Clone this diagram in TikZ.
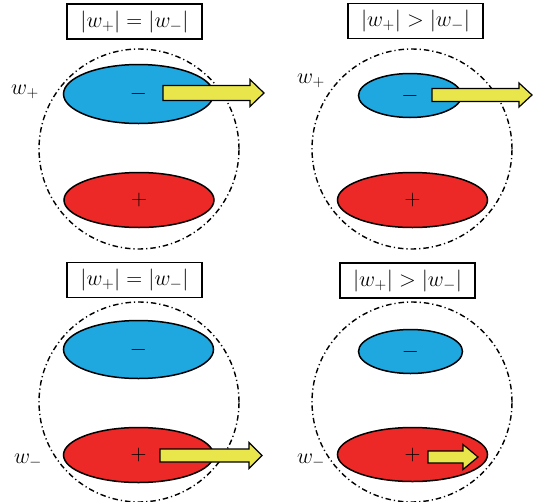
\RequirePackage{fix-cm}
\documentclass[tikz,border=0pt]{standalone}
\usepackage{amsmath}
\usepackage{tikz}
\usetikzlibrary{shapes.geometric}

\definecolor{chargeBlue}{RGB}{31,167,223}
\definecolor{chargeRed}{RGB}{237,41,39}
\definecolor{pushYellow}{RGB}{232,230,74}

\tikzset{
	bigText/.style={font=\fontsize{22}{26}\selectfont},
	titleBox/.style={rectangle, draw=black, line width=1.5pt, minimum width=135pt, minimum height=35pt, inner sep=0pt, bigText},
	minusBlob/.style={ellipse, fill=chargeBlue, draw=black, line width=1.5pt, inner sep=0pt, bigText},
	plusBlob/.style={ellipse, fill=chargeRed, draw=black, line width=1.5pt, inner sep=0pt, bigText},
	dipoleRing/.style={circle, draw=black, line width=1.4pt, dash pattern=on 5.5pt off 3pt on 1.2pt off 3pt, minimum size=200pt, inner sep=0pt},
	pushArrow/.style={fill=pushYellow, draw=black, line width=1.2pt, line join=miter},
	weightLabel/.style={inner sep=0pt, bigText}
}

% tail x, tip x, y, shaft half width, head half width, head length
\newcommand{\drawPush}[6]{%
	\draw[pushArrow] (#1,#3-#4) -- (#2-#6,#3-#4) -- (#2-#6,#3-#5) -- (#2,#3) -- (#2-#6,#3+#5) -- (#2-#6,#3+#4) -- (#1,#3+#4) -- cycle;}

\begin{document}
\begin{tikzpicture}[x=1pt, y=-1pt]
	\useasboundingbox (0,0) rectangle (533,501);

	% titles
	\node[titleBox](eqTopTitle) at (134.5,21.5){$|w_{+}| = |w_{-}|$};
	\node[titleBox](gtTopTitle) at (415.5,21){$|w_{+}| > |w_{-}|$};
	\node[titleBox](eqBotTitle) at (134.5,280){$|w_{+}| = |w_{-}|$};
	\node[titleBox](gtBotTitle) at (407.5,280.5){$|w_{+}| > |w_{-}|$};

	% dipole rings
	\node[dipoleRing](eqTopRing) at (139,149){};
	\node[dipoleRing](gtTopRing) at (412,149){};
	\node[dipoleRing](eqBotRing) at (139,402){};
	\node[dipoleRing](gtBotRing) at (412,402){};

	% charges
	\node[minusBlob, minimum width=150pt, minimum height=59pt](eqTopMinus) at (138.5,94){$-$};
	\node[plusBlob, minimum width=150pt, minimum height=55pt](eqTopPlus) at (139,200){$+$};
	\node[minusBlob, minimum width=103pt, minimum height=44pt](gtTopMinus) at (410,95.5){$-$};
	\node[plusBlob, minimum width=150pt, minimum height=55pt](gtTopPlus) at (412.5,200){$+$};
	\node[minusBlob, minimum width=150pt, minimum height=58pt](eqBotMinus) at (138.5,349.5){$-$};
	\node[plusBlob, minimum width=150pt, minimum height=55pt](eqBotPlus) at (138.5,455){$+$};
	\node[minusBlob, minimum width=104pt, minimum height=44pt](gtBotMinus) at (410.5,351.5){$-$};
	\node[plusBlob, minimum width=150pt, minimum height=54pt](gtBotPlus) at (412.5,454.5){$+$};

	% weights
	\node[weightLabel](eqTopWeight) at (25,92){$w_{+}$};
	\node[weightLabel](gtTopWeight) at (311,81){$w_{+}$};
	\node[weightLabel](eqBotWeight) at (28,461){$w_{-}$};
	\node[weightLabel](gtBotWeight) at (311,461){$w_{-}$};

	% pushes
	\drawPush{163}{264}{93}{7.5}{13.5}{14}
	\drawPush{432}{532}{95}{6.5}{12}{13}
	\drawPush{160}{262}{455.5}{6.5}{13}{13}
	\drawPush{428}{478}{457}{6}{12.5}{15}
\end{tikzpicture}
\end{document}
